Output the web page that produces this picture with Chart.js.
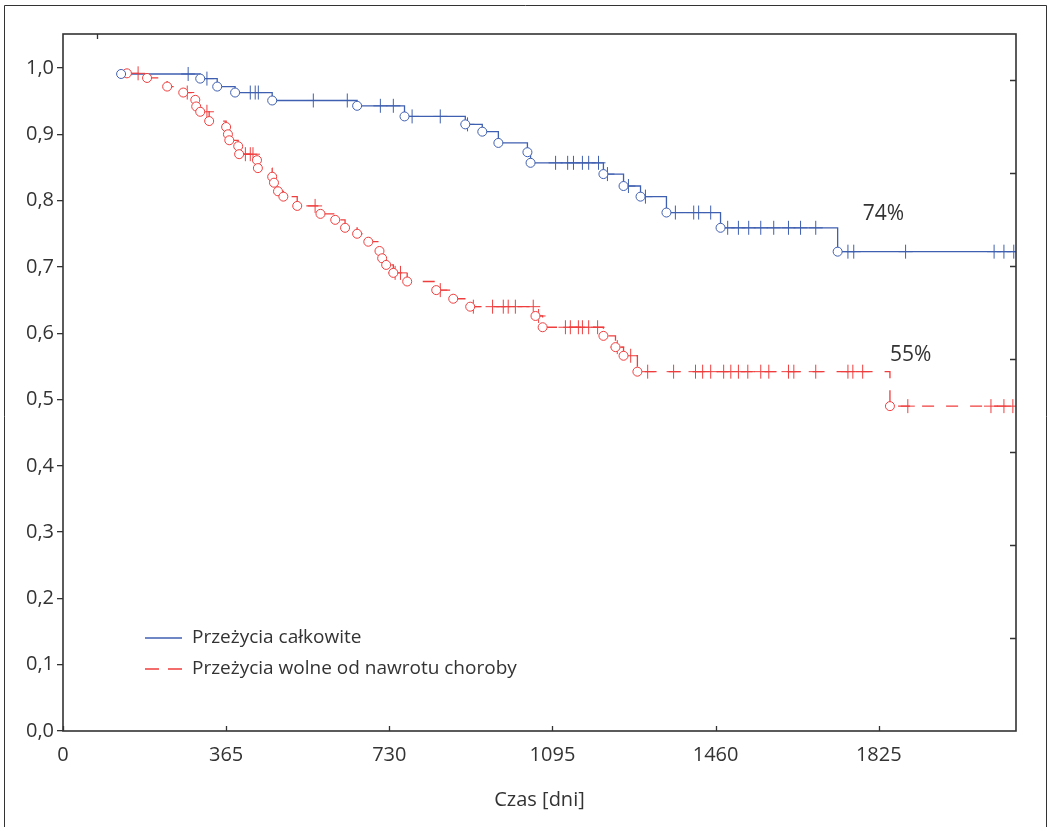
<!DOCTYPE html>
<html>
<head>
<meta charset="utf-8">
<script src="https://cdn.jsdelivr.net/npm/chart.js@4"></script>
<style>
  html, body { margin: 0; padding: 0; background: #fff; }
  canvas { display: block; }
</style>
</head>
<body>
<canvas id="km" width="1048" height="827"></canvas>
<script>
// Przeżycia całkowite - days of events and survival after each event
const osDays = [130, 307, 345, 385, 468, 658, 764, 900, 938, 974, 1039, 1046, 1209, 1254, 1292, 1350, 1471, 1733];
const osSurv = [0.991, 0.984, 0.972, 0.963, 0.951, 0.943, 0.927, 0.915, 0.904, 0.887, 0.873, 0.857, 0.840, 0.822, 0.806, 0.782, 0.759, 0.723];
const osCensored = [280, 322, 419, 430, 437, 560, 636, 710, 739, 781, 844, 905, 1102, 1129, 1142, 1162, 1176, 1198, 1218,
  1265, 1303, 1370, 1411, 1422, 1449, 1487, 1511, 1534, 1561, 1590, 1623, 1650, 1684, 1756, 1769, 1885, 2083, 2105, 2127];

// Przeżycia wolne od nawrotu choroby
const dfsDays = [143, 188, 233, 269, 296, 298, 307, 327, 365, 369, 372, 392, 394, 434, 436, 468, 472, 481, 493, 524,
  576, 609, 631, 658, 683, 708, 714, 723, 739, 770, 835, 873, 911, 1057, 1073, 1209, 1236, 1254, 1285, 1850];
const dfsSurv = [0.992, 0.985, 0.972, 0.963, 0.952, 0.942, 0.934, 0.920, 0.911, 0.900, 0.891, 0.882, 0.870, 0.861, 0.849, 0.836, 0.827, 0.814, 0.806, 0.792,
  0.780, 0.771, 0.759, 0.750, 0.738, 0.724, 0.713, 0.703, 0.691, 0.678, 0.665, 0.652, 0.640, 0.626, 0.609, 0.596, 0.579, 0.566, 0.542, 0.490];
const dfsCensored = [168, 278, 322, 408, 419, 425, 564, 743, 755, 844, 918, 961, 985, 996, 1012, 1052, 1064, 1124, 1135, 1153,
  1162, 1176, 1196, 1240, 1270, 1308, 1366, 1415, 1431, 1449, 1478, 1494, 1511, 1532, 1561, 1579, 1623, 1635, 1684, 1756,
  1767, 1789, 1890, 2076, 2105, 2125];

const seriesNames = ['Przeżycia całkowite', 'Przeżycia wolne od nawrotu choroby'];
const endDay = 2132;
const xTickValues = [0, 365, 730, 1095, 1460, 1825];
const yTickValues = [0, 0.1, 0.2, 0.3, 0.4, 0.5, 0.6, 0.7, 0.8, 0.9, 1.0];
const rightTickValues = [0.140, 0.281, 0.421, 0.561, 0.702, 0.842, 0.982];
const topTickValues = [75];
const labelTexts = ['74%', '55%'];
const labelDays = [1789, 1850];
const labelSurv = [0.78, 0.567];

const blue = '#3f5fb0';
const red = '#ef3e3e';

function survAt(days, surv, t) {
  let s = 1;
  for (let i = 0; i < days.length; i++) if (days[i] <= t) s = surv[i];
  return s;
}

function stepLine(days, surv) {
  const pts = days.map((d, i) => ({x: d, y: surv[i]}));
  pts.push({x: endDay, y: surv[surv.length - 1]});
  return pts;
}

const decor = {
  id: 'decor',
  afterDraw(chart) {
    const {ctx, chartArea: a, scales: {x, y}} = chart;
    ctx.save();
    ctx.strokeStyle = '#333';
    ctx.lineWidth = 1;
    // outer frame
    ctx.beginPath();
    ctx.moveTo(4.5, 900); ctx.lineTo(4.5, 5.5); ctx.lineTo(1046.5, 5.5); ctx.lineTo(1046.5, 900);
    ctx.stroke();
    // plot frame and inward ticks
    ctx.lineWidth = 1.6;
    ctx.strokeRect(a.left, a.top, a.right - a.left, a.bottom - a.top);
    ctx.lineWidth = 1.3;
    ctx.beginPath();
    xTickValues.forEach(v => {
      const px = Math.round(x.getPixelForValue(v)) + 0.5;
      ctx.moveTo(px, a.bottom); ctx.lineTo(px, a.bottom - 5);
    });
    topTickValues.forEach(v => {
      const px = Math.round(x.getPixelForValue(v)) + 0.5;
      ctx.moveTo(px, a.top); ctx.lineTo(px, a.top + 5);
    });
    rightTickValues.forEach(v => {
      const py = Math.round(y.getPixelForValue(v)) + 0.5;
      ctx.moveTo(a.right, py); ctx.lineTo(a.right - 6, py);
    });
    ctx.stroke();

    // legend
    ctx.font = '19px "Open Sans", sans-serif';
    ctx.fillStyle = '#333';
    ctx.textBaseline = 'middle';
    const lx = a.left + 82, ly = [a.bottom - 93, a.bottom - 62];
    ctx.lineWidth = 1.3;
    ctx.strokeStyle = blue;
    ctx.beginPath(); ctx.moveTo(lx, ly[0]); ctx.lineTo(lx + 37, ly[0]); ctx.stroke();
    ctx.strokeStyle = red;
    ctx.setLineDash([14, 9]);
    ctx.beginPath(); ctx.moveTo(lx, ly[1]); ctx.lineTo(lx + 37, ly[1]); ctx.stroke();
    ctx.setLineDash([]);
    seriesNames.forEach((n, i) => ctx.fillText(n, lx + 47, ly[i]));

    // percent labels
    ctx.font = '21px "Open Sans", sans-serif';
    labelTexts.forEach((t, i) => ctx.fillText(t, x.getPixelForValue(labelDays[i]), y.getPixelForValue(labelSurv[i])));
    ctx.restore();
  }
};

Chart.defaults.font.family = '"Open Sans", sans-serif';
Chart.defaults.color = '#333';

new Chart(document.getElementById('km'), {
  type: 'scatter',
  data: {
    datasets: [
      {
        label: seriesNames[0] + ' (zdarzenia)',
        data: osDays.map((d, i) => ({x: d, y: osSurv[i]})),
        pointStyle: 'circle', pointRadius: 4.5, borderWidth: 1,
        borderColor: blue, backgroundColor: '#fff', order: 0
      },
      {
        label: seriesNames[1] + ' (zdarzenia)',
        data: dfsDays.map((d, i) => ({x: d, y: dfsSurv[i]})),
        pointStyle: 'circle', pointRadius: 4.5, borderWidth: 1,
        borderColor: red, backgroundColor: '#fff', order: 0
      },
      {
        label: seriesNames[0] + ' (obserwacje cenzurowane)',
        data: osCensored.map(d => ({x: d, y: survAt(osDays, osSurv, d)})),
        pointStyle: 'cross', pointRadius: 7, borderWidth: 1,
        borderColor: blue, order: 1
      },
      {
        label: seriesNames[1] + ' (obserwacje cenzurowane)',
        data: dfsCensored.map(d => ({x: d, y: survAt(dfsDays, dfsSurv, d)})),
        pointStyle: 'cross', pointRadius: 7, borderWidth: 1,
        borderColor: red, order: 1
      },
      {
        label: seriesNames[0],
        data: stepLine(osDays, osSurv),
        showLine: true, stepped: 'before', pointRadius: 0,
        borderColor: blue, borderWidth: 1.3, order: 2
      },
      {
        label: seriesNames[1],
        data: stepLine(dfsDays, dfsSurv),
        showLine: true, stepped: 'before', pointRadius: 0,
        borderColor: red, borderWidth: 1.3, borderDash: [12, 12], order: 2
      }
    ]
  },
  options: {
    responsive: false,
    animation: false,
    devicePixelRatio: 1,
    layout: { padding: { top: 34, right: 32, left: 0, bottom: 0 } },
    plugins: {
      legend: { display: false },
      tooltip: { enabled: false }
    },
    scales: {
      x: {
        type: 'linear',
        min: 0,
        max: endDay,
        afterBuildTicks: s => { s.ticks = xTickValues.map(v => ({value: v})); },
        afterFit: s => { s.height = 96; },
        grid: { display: false, drawTicks: false },
        border: { display: false },
        ticks: { padding: 12, maxRotation: 0, autoSkip: false, font: { size: 20 }, callback: v => String(v) },
        title: { display: true, text: 'Czas [dni]', font: { size: 20 }, padding: { top: 0, bottom: 15 } }
      },
      y: {
        min: 0,
        max: 1.0513,
        afterBuildTicks: s => { s.ticks = yTickValues.map(v => ({value: v})); },
        afterFit: s => { s.width = 63; },
        grid: { drawOnChartArea: false, tickLength: 6, color: '#333', lineWidth: 1.3 },
        border: { display: false },
        ticks: { padding: 3, font: { size: 20 }, callback: v => v.toFixed(1).replace('.', ',') }
      }
    }
  },
  plugins: [decor]
});
</script>
</body>
</html>
